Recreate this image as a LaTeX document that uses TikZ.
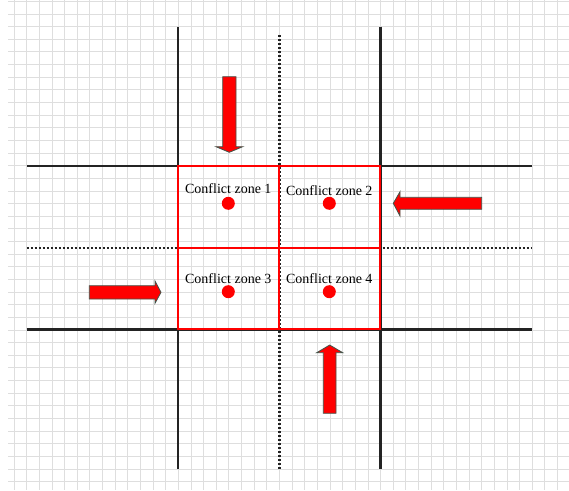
\documentclass[tikz,border=0pt]{standalone}
\usepackage{fontspec}
\setmainfont{Liberation Serif}
\usepackage{xcolor}
\definecolor{gridgray}{RGB}{222,222,222}
\definecolor{roadblack}{RGB}{35,35,35}
\definecolor{arrowedge}{RGB}{65,85,75}

\tikzset{
  road/.style={roadblack, line width=2.2pt},
  laneline/.style={roadblack, line width=2.2pt, dash pattern=on 2pt off 2pt},
  zonebox/.style={red, line width=2pt},
  zonedot/.style={circle, fill=red, inner sep=0pt, minimum size=13pt},
  zonelabel/.style={font=\fontsize{14}{16}\selectfont, inner sep=0pt, anchor=base},
  flowarrow/.style={fill=red, draw=arrowedge, line width=0.8pt, line join=miter}
}

\begin{document}
\begin{tikzpicture}[x=1pt, y=-1pt]
\useasboundingbox (0,0) rectangle (569,490);

% Background grid
\foreach \k in {0,...,44}
  \draw[gridgray, line width=0.8pt] ({14+12.64*\k},0) -- ({14+12.64*\k},490);
\foreach \k in {0,...,38}
  \draw[gridgray, line width=0.8pt] (8,{1.3+12.64*\k}) -- (569,{1.3+12.64*\k});

% Road edges
\draw[road] (178.3,26.7) -- (178.3,469.3);
\draw[road] (380.4,26.7) -- (380.4,469.3);
\draw[road] (26.7,165.6) -- (532.2,165.6);
\draw[road] (26.7,329.4) -- (532.2,329.4);

% Lane dividers
\draw[laneline] (279.4,35) -- (279.4,469.3);
\draw[laneline] (26.7,248.3) -- (532.2,248.3);

% Conflict zones
\draw[zonebox] (178.3,165.6) rectangle (380.4,329.4);
\draw[zonebox] (279.4,165.6) -- (279.4,329.4);
\draw[zonebox] (178.3,247.5) -- (380.4,247.5);

% Zone dots and labels
\node[zonedot] (dot1) at (228.3,203.3) {};
\node[zonedot] (dot2) at (329.3,203.3) {};
\node[zonedot] (dot3) at (228.3,291.7) {};
\node[zonedot] (dot4) at (329.3,291.7) {};
\node[zonelabel] (zone1) at (228.3,193) {Conflict zone 1};
\node[zonelabel] (zone2) at (329.3,195) {Conflict zone 2};
\node[zonelabel] (zone3) at (228.3,283.3) {Conflict zone 3};
\node[zonelabel] (zone4) at (329.3,283.3) {Conflict zone 4};

% Incoming traffic (north, east, west, south)
\filldraw[flowarrow] (222.7,76.7) -- (236,76.7) -- (236,146.7) -- (242.7,146.7)
  -- (229.3,152.3) -- (216,146.7) -- (222.7,146.7) -- cycle;
\filldraw[flowarrow] (481.7,197.3) -- (481.7,209.3) -- (400,209.3) -- (400,216)
  -- (393.3,203.3) -- (400,191.7) -- (400,197.3) -- cycle;
\filldraw[flowarrow] (89.3,285.7) -- (155,285.7) -- (155,281) -- (161,292.3)
  -- (155,303.3) -- (155,299) -- (89.3,299) -- cycle;
\filldraw[flowarrow] (323.3,413.3) -- (323.3,352.7) -- (316.7,352.7) -- (329.7,345)
  -- (342.7,352.7) -- (336,352.7) -- (336,413.3) -- cycle;

\end{tikzpicture}
\end{document}
